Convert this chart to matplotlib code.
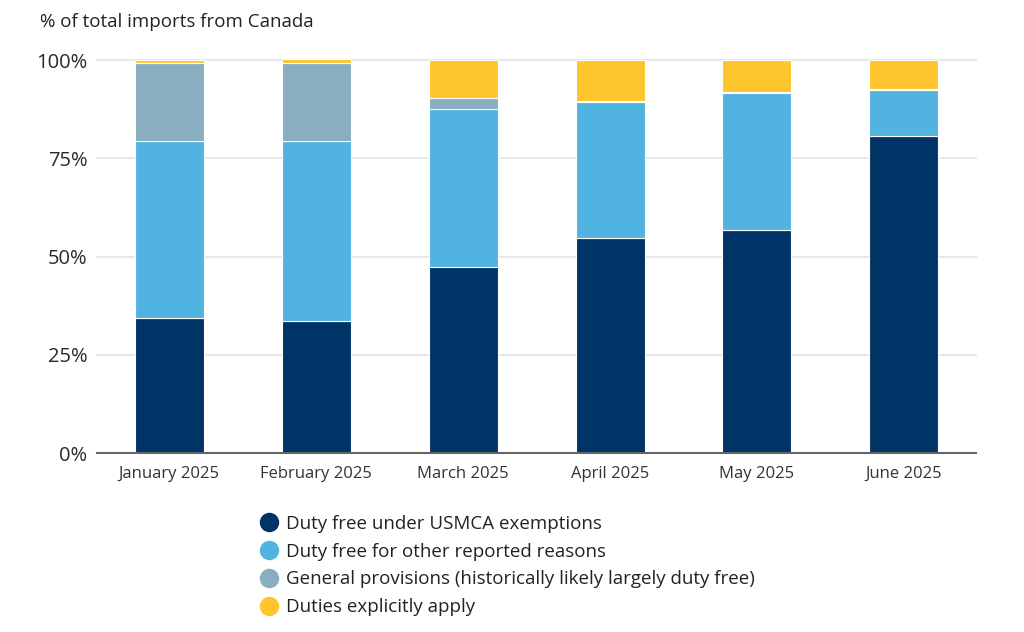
"""Canada imports by tariff treatment, stacked share per month"""
import matplotlib
matplotlib.use("Agg")
import matplotlib.pyplot as plt
from matplotlib.lines import Line2D
import numpy as np

months = ["January 2025", "February 2025", "March 2025",
          "April 2025", "May 2025", "June 2025"]
usmca = [34.3, 33.6, 47.3, 54.7, 56.7, 80.8]
other_reasons = [45.1, 45.8, 40.2, 34.7, 34.8, 11.6]
general_prov = [19.9, 19.9, 2.9, 0.3, 0.4, 0.2]
duties_apply = [0.7, 0.9, 9.6, 10.3, 8.1, 7.4]

series_names = ["Duty free under USMCA exemptions",
                "Duty free for other reported reasons",
                "General provisions (historically likely largely duty free)",
                "Duties explicitly apply"]
colors = ["#003366", "#50B3E0", "#89AEBF", "#FFC52E"]

plt.rcParams['font.family'] = ['Open Sans', 'DejaVu Sans']

fig = plt.figure(figsize=(10.24, 6.32), dpi=100)
ax = fig.add_axes([0.095, 0.283, 0.858, 0.622])

x = np.arange(len(months))
bottom = np.zeros(len(months))
for vals, col in zip([usmca, other_reasons, general_prov, duties_apply], colors):
    ax.bar(x, vals, width=0.47, bottom=bottom, color=col,
           edgecolor="white", linewidth=0.8, zorder=3, clip_on=False)
    bottom += np.array(vals)

ax.set_ylim(0, 100)
ax.set_xlim(-0.49, 5.49)
ax.set_yticks([0, 25, 50, 75, 100])
ax.set_yticklabels(["0%", "25%", "50%", "75%", "100%"])
ax.set_xticks(x)
ax.set_xticklabels(months)
ax.tick_params(axis="y", length=0, labelsize=14.5, labelcolor="#2a2a2a", pad=7)
ax.tick_params(axis="x", length=0, labelsize=12, labelcolor="#333333", pad=9)
for y in [25, 50, 75, 100]:
    ax.axhline(y, color="#e8e8ec", linewidth=1.5, zorder=1, clip_on=False)
for side in ["top", "right", "left"]:
    ax.spines[side].set_visible(False)
ax.spines["bottom"].set_color("#666666")
ax.spines["bottom"].set_linewidth(1.5)
ax.spines["bottom"].set_zorder(4)

fig.text(0.039, 0.965, "% of total imports from Canada", fontsize=13.5,
         color="#222222", va="center", ha="left")

handles = [Line2D([0], [0], marker="o", linestyle="", markersize=13,
                  markerfacecolor=c, markeredgecolor=c) for c in colors]
fig.legend(handles, series_names, loc="upper left",
           bbox_to_anchor=(0.243, 0.2), frameon=False, fontsize=13.5,
           labelspacing=0.52, handletextpad=0.3, borderpad=0, handlelength=1.2,
           labelcolor="#222222")

fig.savefig("out.png", dpi=100, facecolor="white")
